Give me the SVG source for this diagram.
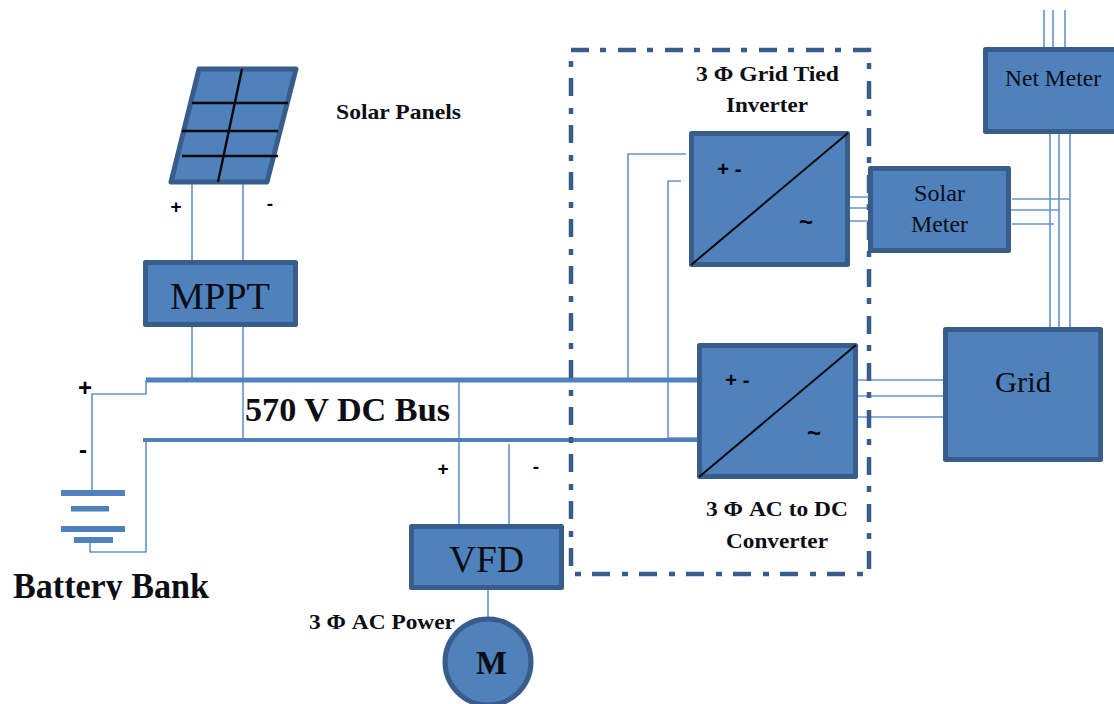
<svg xmlns="http://www.w3.org/2000/svg" width="1114" height="704" viewBox="0 0 1114 704">
<style>
.n{fill:#4f81bd;stroke:#385d8a;stroke-width:5;stroke-linejoin:round}
.w{fill:none;stroke:#6594d0;stroke-width:1.6}
.bus{fill:none;stroke:#4f81bd}
.k{fill:none;stroke:#0a0a0a}
.t{font-family:"Liberation Serif","Times New Roman",serif;fill:#0d0d14}
.b{font-weight:bold}
.s{font-family:"Liberation Sans",Arial,sans-serif;font-weight:bold;fill:#000;text-anchor:middle}
</style>
<defs><clipPath id="clipBatt"><rect x="0" y="560" width="300" height="40"/></clipPath></defs>
<rect width="1114" height="704" fill="#fff"/>
<g id="connectors">
<path class="w" d="M192 182V380M243 182V440M146 380V394H92V490M146 440V552H90V540"/>
<path class="w" d="M698 380H628V154H686M698 438H668V181H681"/>
<path class="w" d="M459 380V524M509 444V524M488 590V620"/>
<path class="w" d="M850 197H868M850 208H868M850 221H868M1012 199H1070M1011 210H1059M1012 224H1054"/>
<path class="w" d="M1044 10V48M1053 10V48M1065 10V48M1050 134V327M1059 134V327M1070 134V327"/>
<path class="w" d="M858 380H943M858 396H943M858 417H943"/>
<path class="bus" stroke-width="5" d="M146 380H698"/>
<path class="bus" stroke-width="4" d="M143 440H698"/>
</g>
<g id="boundary"><rect x="571" y="50" width="298" height="524" fill="none" stroke="#385d8a" stroke-width="4.5" stroke-dasharray="18 11 6 12"/></g>
<g id="solar-panels">
<polygon class="n" points="199,69 296,69 267,182 171,182" stroke-width="4"/>
<path class="k" stroke-width="2.400" d="M192 103H288M182 131H278M182 156H278M242 69L218 182"/>
</g>
<g id="mppt"><rect class="n" x="145.500" y="262.500" width="150" height="62"/><text class="t" x="170" y="309" font-size="38" textLength="100" lengthAdjust="spacingAndGlyphs">MPPT</text></g>
<g id="battery" fill="#4f81bd">
<rect x="61" y="490" width="64" height="6"/><rect x="71" y="506" width="38" height="5.500"/><rect x="61" y="526" width="64" height="6"/><rect x="74" y="537" width="39" height="6"/>
</g>
<g id="inverter"><rect class="n" x="691.500" y="133.500" width="156" height="131"/><path class="k" stroke-width="2" d="M691 265L848 133"/>
<text class="s" x="723" y="176" font-size="20">+</text><text class="s" x="738" y="176" font-size="20">-</text><text class="s" x="806" y="230" font-size="24">~</text></g>
<g id="converter"><rect class="n" x="699.500" y="345.500" width="156" height="131"/><path class="k" stroke-width="2" d="M699 477L856 345"/>
<text class="s" x="731" y="387" font-size="20">+</text><text class="s" x="746" y="387" font-size="20">-</text><text class="s" x="814" y="441" font-size="24">~</text></g>
<g id="solar-meter"><rect class="n" x="870.500" y="168.500" width="138" height="82"/><text class="t" x="914" y="201" font-size="23" textLength="51" lengthAdjust="spacingAndGlyphs">Solar</text><text class="t" x="911" y="232" font-size="23" textLength="57" lengthAdjust="spacingAndGlyphs">Meter</text></g>
<g id="net-meter"><rect class="n" x="985.500" y="49.500" width="135" height="82"/><text class="t" x="1005" y="86" font-size="23" textLength="96" lengthAdjust="spacingAndGlyphs">Net Meter</text></g>
<g id="grid"><rect class="n" x="945.500" y="329.500" width="155" height="130"/><text class="t" x="995" y="392" font-size="29" textLength="56" lengthAdjust="spacingAndGlyphs">Grid</text></g>
<g id="vfd"><rect class="n" x="411.500" y="526.500" width="150" height="61"/><text class="t" x="449" y="572" font-size="38" textLength="75" lengthAdjust="spacingAndGlyphs">VFD</text></g>
<g id="motor"><circle class="n" cx="488" cy="662" r="43"/><text class="t b" x="476" y="674" font-size="34" textLength="31" lengthAdjust="spacingAndGlyphs">M</text></g>
<g id="labels">
<text class="t b" x="336" y="119" font-size="22" textLength="125" lengthAdjust="spacingAndGlyphs">Solar Panels</text>
<text class="t b" x="696" y="81" font-size="22" textLength="143" lengthAdjust="spacingAndGlyphs">3 Φ Grid Tied</text>
<text class="t b" x="726" y="112" font-size="22" textLength="82" lengthAdjust="spacingAndGlyphs">Inverter</text>
<text class="t b" x="706" y="516" font-size="22" textLength="142" lengthAdjust="spacingAndGlyphs">3 Φ AC to DC</text>
<text class="t b" x="726" y="548" font-size="22" textLength="102" lengthAdjust="spacingAndGlyphs">Converter</text>
<text class="t b" x="245" y="421" font-size="34" textLength="205" lengthAdjust="spacingAndGlyphs">570 V DC Bus</text>
<text class="t b" x="309" y="629" font-size="22" textLength="146" lengthAdjust="spacingAndGlyphs">3 Φ AC Power</text>
<text class="t b" x="13" y="598" font-size="35" textLength="196" lengthAdjust="spacingAndGlyphs" clip-path="url(#clipBatt)">Battery Bank</text>
<text class="s" x="85" y="396" font-size="24">+</text><text class="s" x="83" y="458" font-size="24">-</text>
<text class="s" x="176" y="213" font-size="19">+</text><text class="s" x="270" y="210" font-size="19">-</text>
<text class="s" x="443" y="475" font-size="19">+</text><text class="s" x="536" y="473" font-size="19">-</text>
</g>
</svg>
